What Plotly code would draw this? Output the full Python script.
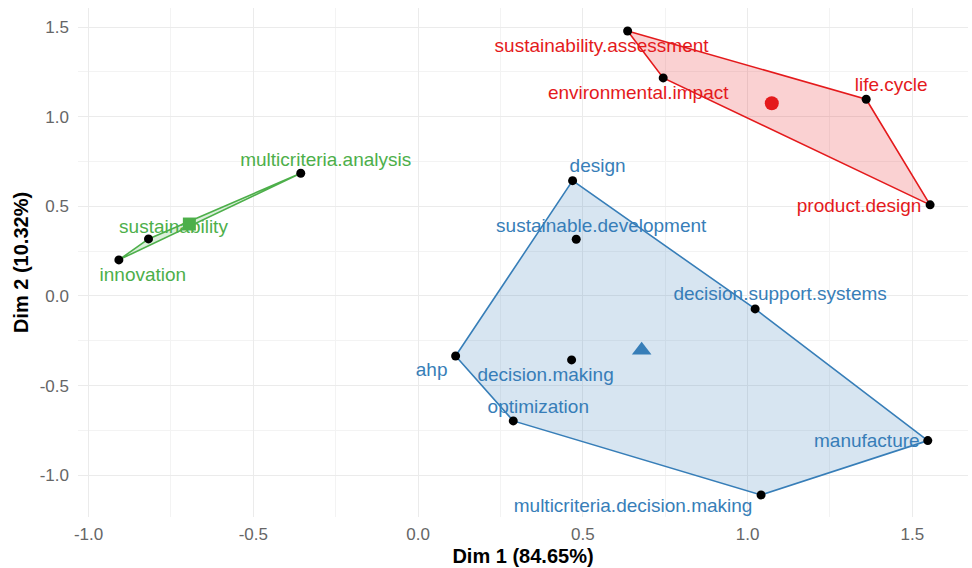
import numpy as np
import plotly.graph_objects as go

# ---------------- data ----------------
cluster1_names = ["sustainability.assessment", "environmental.impact", "life.cycle", "product.design"]
cluster1_x = [0.636, 0.744, 1.360, 1.554]
cluster1_y = [1.478, 1.216, 1.097, 0.508]

cluster2_names = ["design", "sustainable.development", "decision.support.systems", "ahp",
                  "decision.making", "optimization", "manufacture", "multicriteria.decision.making"]
cluster2_x = [0.469, 0.480, 1.023, 0.114, 0.466, 0.289, 1.547, 1.041]
cluster2_y = [0.643, 0.316, -0.0725, -0.335, -0.357, -0.697, -0.807, -1.110]

cluster3_names = ["multicriteria.analysis", "sustainability", "innovation"]
cluster3_x = [-0.356, -0.818, -0.908]
cluster3_y = [0.684, 0.318, 0.201]

x_ticks = [-1.0, -0.5, 0.0, 0.5, 1.0, 1.5]
y_ticks = [-1.0, -0.5, 0.0, 0.5, 1.0, 1.5]
x_title = "Dim 1 (84.65%)"
y_title = "Dim 2 (10.32%)"

# ---------------- styling / layout ----------------
W, H = 972, 568
ML, MR, MT, MB = 78, 4, 8, 51
XR = [-1.032, 1.669]
YR = [-1.233, 1.606]
SX = (W - ML - MR) / (XR[1] - XR[0])
SY = (H - MT - MB) / (YR[1] - YR[0])

FONT = "Liberation Sans, Arial, Helvetica, sans-serif"

# label offsets in pixels (dx right, dy down) relative to each point
off1 = [(-26, 16), (-25, 16), (25, -13), (-71, 2)]
off2 = [(25, -13), (25, -12), (25, -14), (-24, 15), (-26, 16), (25, -13), (-61, 2), (-128, 12)]
off3 = [(25, -12), (25, -11), (24, 16)]

groups = [
    dict(names=cluster1_names, x=cluster1_x, y=cluster1_y, off=off1,
         color="#E41A1C", fill="rgba(228,26,28,0.2)", symbol="circle", csize=14),
    dict(names=cluster2_names, x=cluster2_x, y=cluster2_y, off=off2,
         color="#377EB8", fill="rgba(55,126,184,0.2)", symbol="triangle-up", csize=17),
    dict(names=cluster3_names, x=cluster3_x, y=cluster3_y, off=off3,
         color="#4DAF4A", fill="rgba(77,175,74,0.2)", symbol="square", csize=13),
]


def convex_hull(xs, ys):
    pts = sorted(set(zip(xs, ys)))
    if len(pts) <= 2:
        return pts

    def cross(o, a, b):
        return (a[0] - o[0]) * (b[1] - o[1]) - (a[1] - o[1]) * (b[0] - o[0])

    lower, upper = [], []
    for p in pts:
        while len(lower) >= 2 and cross(lower[-2], lower[-1], p) <= 0:
            lower.pop()
        lower.append(p)
    for p in reversed(pts):
        while len(upper) >= 2 and cross(upper[-2], upper[-1], p) <= 0:
            upper.pop()
        upper.append(p)
    return lower[:-1] + upper[:-1]


fig = go.Figure()

# labels (beneath hulls and points)
for g in groups:
    tx = [x + dx / SX for x, (dx, dy) in zip(g["x"], g["off"])]
    ty = [y - dy / SY for y, (dx, dy) in zip(g["y"], g["off"])]
    fig.add_trace(go.Scatter(x=tx, y=ty, mode="text", text=g["names"],
                             textposition="middle center",
                             textfont=dict(family=FONT, size=19, color=g["color"]),
                             hoverinfo="skip", showlegend=False))

# hulls
for g in groups:
    hull = convex_hull(g["x"], g["y"])
    hx = [p[0] for p in hull] + [hull[0][0]]
    hy = [p[1] for p in hull] + [hull[0][1]]
    fig.add_trace(go.Scatter(x=hx, y=hy, mode="lines", fill="toself",
                             fillcolor=g["fill"], line=dict(color=g["color"], width=1.6),
                             hoverinfo="skip", showlegend=False))

# points
for g in groups:
    fig.add_trace(go.Scatter(x=g["x"], y=g["y"], mode="markers",
                             marker=dict(color="black", size=9),
                             text=g["names"], showlegend=False))

# centroids
for g in groups:
    fig.add_trace(go.Scatter(x=[float(np.mean(g["x"]))], y=[float(np.mean(g["y"]))],
                             mode="markers",
                             marker=dict(color=g["color"], size=g["csize"], symbol=g["symbol"]),
                             showlegend=False))

axis_common = dict(
    showline=False, zeroline=False, ticks="", showgrid=True,
    gridcolor="#EBEBEB", gridwidth=1.4,
    tickfont=dict(family=FONT, size=17, color="#666666"),
)

fig.update_layout(
    width=W, height=H,
    margin=dict(l=ML, r=MR, t=MT, b=MB, autoexpand=False),
    plot_bgcolor="white", paper_bgcolor="white",
    showlegend=False,
    xaxis=dict(range=XR, tickvals=x_ticks, ticktext=[f"{v:.1f}" for v in x_ticks],
               minor=dict(dtick=0.25, tick0=0, showgrid=True, gridcolor="#F3F3F3", gridwidth=1),
               ticklabelstandoff=5,
               title=dict(text=f"<b>{x_title}</b>", standoff=5,
                          font=dict(family=FONT, size=20, color="black")),
               **axis_common),
    yaxis=dict(range=YR, tickvals=y_ticks, ticktext=[f"{v:.1f}" for v in y_ticks],
               minor=dict(dtick=0.25, tick0=0, showgrid=True, gridcolor="#F3F3F3", gridwidth=1),
               ticklabelstandoff=8,
               title=dict(text=f"<b>{y_title}</b>", standoff=5,
                          font=dict(family=FONT, size=20, color="black")),
               **axis_common),
)

fig.write_html("out.html", config={"displayModeBar": False},
               post_script="document.body.style.margin='0';document.body.style.overflow='hidden';")
